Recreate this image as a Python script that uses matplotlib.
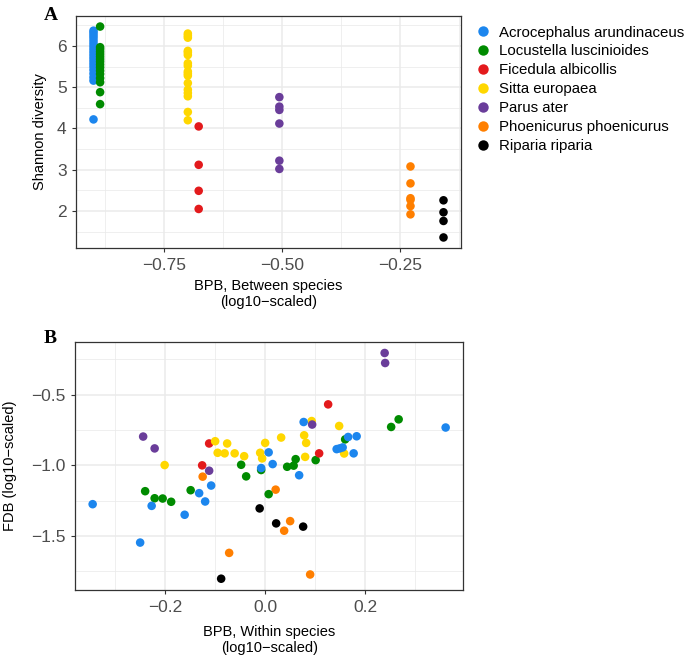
import numpy as np
import matplotlib
matplotlib.use("Agg")
import matplotlib.pyplot as plt
from matplotlib.lines import Line2D
from matplotlib.ticker import MultipleLocator

plt.rcParams["font.family"] = ["Liberation Sans", "DejaVu Sans"]

SPECIES = ["Acrocephalus arundinaceus", "Locustella luscinioides",
           "Ficedula albicollis", "Sitta europaea", "Parus ater",
           "Phoenicurus phoenicurus", "Riparia riparia"]
COLORS = ["#1C86EE", "#008B00", "#E31A1C", "#FFD700", "#6A3D9A",
          "#FF7F00", "#000000"]

# panel A: between-species BPB (one value per species) and Shannon diversity
between_bpb = [-0.900, -0.886, -0.677, -0.700, -0.506, -0.228, -0.158]
shannon_acro = [6.37, 6.32, 6.26, 6.20, 6.13, 6.06, 5.99, 5.92, 5.85, 5.78,
                5.71, 5.64, 5.57, 5.50, 5.42, 5.33, 5.24, 5.16, 4.22]
shannon_locu = [6.47, 5.97, 5.92, 5.86, 5.80, 5.74, 5.68, 5.62, 5.55, 5.48,
                5.40, 5.32, 5.22, 5.12, 4.88, 4.59]
shannon_fice = [4.05, 3.12, 2.49, 2.05]
shannon_sitt = [6.30, 6.25, 6.20, 5.88, 5.84, 5.78, 5.58, 5.52, 5.38, 5.33,
                5.28, 5.10, 4.94, 4.86, 4.78, 4.40, 4.20]
shannon_paru = [4.76, 4.53, 4.45, 4.12, 3.22, 3.02]
shannon_phoe = [3.08, 2.67, 2.31, 2.27, 2.12, 1.92]
shannon_ripa = [2.26, 1.97, 1.76, 1.36]

# panel B: within-species BPB vs FDB
within_acro = [-0.345, -0.250, -0.227, -0.161, -0.132, -0.120, -0.108, -0.008,
               0.007, 0.015, 0.068, 0.077, 0.143, 0.149, 0.155, 0.166, 0.177,
               0.183, 0.361]
fdb_acro = [-1.275, -1.547, -1.287, -1.350, -1.197, -1.256, -1.143, -1.019,
            -0.908, -0.991, -1.070, -0.693, -0.885, -0.880, -0.873, -0.799,
            -0.915, -0.794, -0.732]
within_locu = [-0.240, -0.221, -0.205, -0.188, -0.149, -0.048, -0.038, -0.008,
               0.007, 0.044, 0.057, 0.061, 0.101, 0.160, 0.252, 0.267]
fdb_locu = [-1.183, -1.233, -1.235, -1.258, -1.176, -0.996, -1.078, -1.033,
            -1.204, -1.010, -1.002, -0.956, -0.963, -0.816, -0.728, -0.674]
within_fice = [-0.126, -0.112, 0.108, 0.126]
fdb_fice = [-1.000, -0.845, -0.915, -0.568]
within_sitt = [-0.201, -0.100, -0.095, -0.081, -0.076, -0.061, -0.042, -0.010,
               -0.006, 0.000, 0.032, 0.078, 0.082, 0.080, 0.093, 0.148, 0.158]
fdb_sitt = [-0.998, -0.829, -0.911, -0.915, -0.845, -0.915, -0.935, -0.911,
            -0.951, -0.841, -0.803, -0.787, -0.841, -0.940, -0.686, -0.721,
            -0.916]
within_paru = [-0.244, -0.221, -0.112, 0.094, 0.239, 0.240]
fdb_paru = [-0.796, -0.880, -1.038, -0.711, -0.204, -0.275]
within_phoe = [-0.125, -0.072, 0.021, 0.038, 0.050, 0.090]
fdb_phoe = [-1.080, -1.620, -1.172, -1.463, -1.395, -1.773]
within_ripa = [-0.088, -0.011, 0.022, 0.076]
fdb_ripa = [-1.803, -1.305, -1.411, -1.434]

shannon = [shannon_acro, shannon_locu, shannon_fice, shannon_sitt,
           shannon_paru, shannon_phoe, shannon_ripa]
within = [within_acro, within_locu, within_fice, within_sitt, within_paru,
          within_phoe, within_ripa]
fdb = [fdb_acro, fdb_locu, fdb_fice, fdb_sitt, fdb_paru, fdb_phoe, fdb_ripa]

PT = 38
GRID = "#EBEBEB"
DARK = "#333333"


def style(ax, xmaj, ymaj):
    ax.set_axisbelow(True)
    ax.xaxis.set_major_locator(MultipleLocator(xmaj))
    ax.xaxis.set_minor_locator(MultipleLocator(xmaj / 2))
    ax.yaxis.set_major_locator(MultipleLocator(ymaj))
    ax.yaxis.set_minor_locator(MultipleLocator(ymaj / 2))
    ax.grid(which="major", color=GRID, lw=1.1)
    ax.grid(which="minor", color=GRID, lw=0.55)
    ax.tick_params(which="major", length=2.8, width=0.8, color=DARK,
                   labelcolor="#4D4D4D", labelsize=12.5)
    ax.tick_params(axis="x", pad=4.5)
    ax.tick_params(axis="y", pad=4)
    ax.tick_params(which="minor", length=0)
    for s in ax.spines.values():
        s.set_color(DARK)
        s.set_linewidth(0.9)


def expand(vals, frac=0.05):
    lo, hi = min(vals), max(vals)
    d = (hi - lo) * frac
    return lo - d, hi + d


fig = plt.figure(figsize=(6.85, 6.57), dpi=100)

# ---- panel A
axA = fig.add_axes([76 / 685, 1 - 248 / 657, 385 / 685, 232 / 657])
order_a = [0, 1, 3, 2, 4, 5, 6]
for i in order_a:
    axA.scatter([between_bpb[i]] * len(shannon[i]), shannon[i], s=PT,
                color=COLORS[i], edgecolors="none", zorder=3)
style(axA, 0.25, 1)
axA.set_xlim(*expand(between_bpb))
axA.set_ylim(*expand(sum(shannon, [])))
axA.xaxis.set_major_formatter(lambda v, p: f"{v:.2f}".replace("-", "\u2212"))
axA.set_xlabel("BPB, Between species\n(log10\u2212scaled)", fontsize=10.5,
               linespacing=1.2, labelpad=4)
axA.set_ylabel("Shannon diversity", fontsize=10.5, labelpad=7)
fig.text(44 / 685, 1 - 20 / 657, "A", family="Liberation Serif",
         fontweight="bold", fontsize=14)

# ---- panel B
axB = fig.add_axes([75 / 685, 1 - 590 / 657, 388.3 / 685, 248.3 / 657])
order_b = [6, 5, 1, 2, 3, 0, 4]
for i in order_b:
    axB.scatter(within[i], fdb[i], s=PT, color=COLORS[i],
                edgecolors="none", zorder=3)
style(axB, 0.2, 0.5)
axB.set_xlim(*expand(sum(within, [])))
axB.set_ylim(*expand(sum(fdb, [])))
axB.xaxis.set_major_formatter(lambda v, p: f"{v:.1f}".replace("-", "\u2212"))
axB.yaxis.set_major_formatter(lambda v, p: f"{v:.1f}".replace("-", "\u2212"))
axB.set_xlabel("BPB, Within species\n(log10\u2212scaled)", fontsize=10.5,
               linespacing=1.2, labelpad=7)
axB.set_ylabel("FDB (log10\u2212scaled)", fontsize=10.5, labelpad=10)
fig.text(44 / 685, 1 - 343 / 657, "B", family="Liberation Serif",
         fontweight="bold", fontsize=14)

# ---- legend
handles = [Line2D([], [], marker="o", ls="", markersize=7.5,
                  markerfacecolor=c, markeredgecolor="none") for c in COLORS]
fig.legend(handles, SPECIES, loc="upper left",
           bbox_to_anchor=(475 / 685, 1 - 25.5 / 657), frameon=False,
           fontsize=10.8, labelspacing=0.33, handlelength=1.0,
           handletextpad=0.6, borderpad=0, borderaxespad=0)

fig.savefig("out.png", dpi=100)
